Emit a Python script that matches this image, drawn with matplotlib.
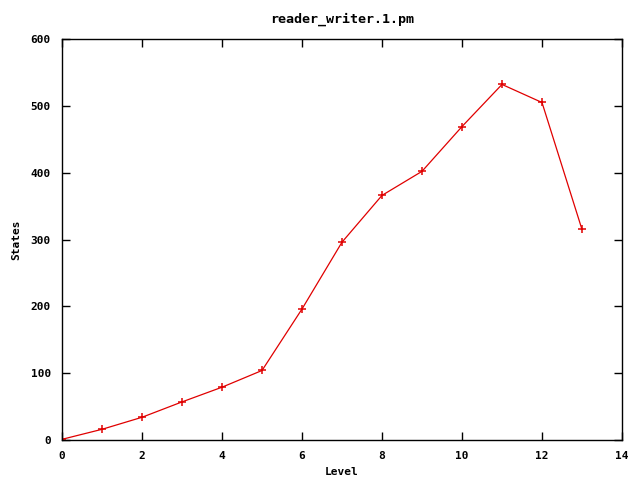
import matplotlib
matplotlib.use('Agg')
from matplotlib import pyplot as plt

levels = [0, 1, 2, 3, 4, 5, 6, 7, 8, 9, 10, 11, 12, 13]
states = [1, 16, 34, 57, 79, 104, 196, 296, 366, 402, 469, 532, 505, 315]

plt.rcParams['font.family'] = 'DejaVu Sans Mono'
plt.rcParams['font.weight'] = 'bold'
plt.rcParams['font.size'] = 8

fig = plt.figure(figsize=(6.4, 4.8), dpi=100)
fig.subplots_adjust(left=62 / 640, right=622 / 640, top=1 - 39 / 480, bottom=1 - 440 / 480)
ax = fig.add_subplot(111)
ax.plot(levels, states, color='#e00000', linewidth=0.9, marker='+',
        markersize=6, markeredgewidth=1.1)

ax.set_xlim(0, 14)
ax.set_ylim(0, 600)
ax.set_xticks(range(0, 15, 2))
ax.set_yticks(range(0, 601, 100))
ax.tick_params(direction='in', top=True, right=True, length=6, width=1)
ax.tick_params(axis='x', pad=8)
ax.tick_params(axis='y', pad=8)
for s in ax.spines.values():
    s.set_linewidth(1)
ax.set_xlabel('Level', fontweight='bold', labelpad=4)
ax.set_ylabel('States', fontweight='bold', labelpad=7)
ax.set_title('reader_writer.1.pm', fontweight='bold', pad=12)
fig.savefig('out.png', dpi=100)
